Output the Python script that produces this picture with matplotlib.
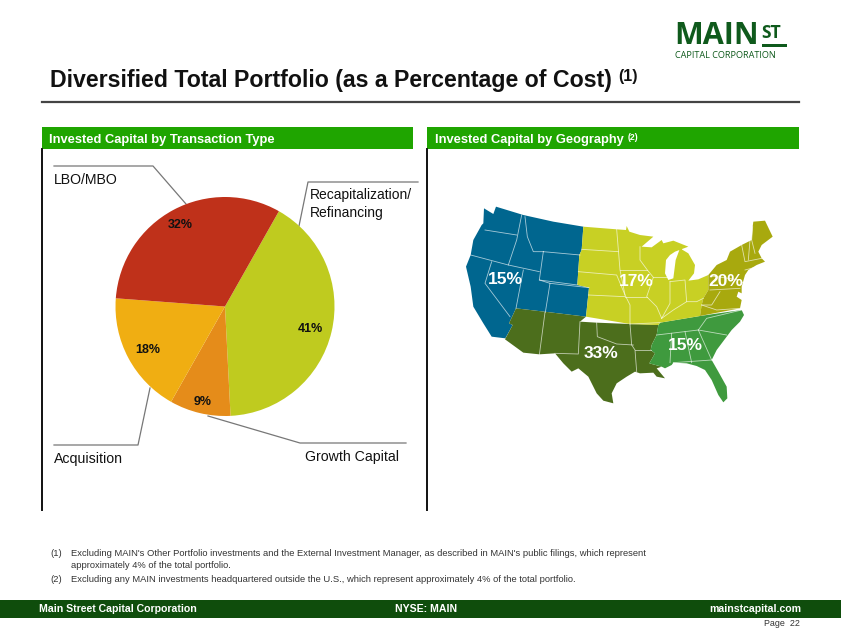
import numpy as np
import matplotlib
matplotlib.use("Agg")
import matplotlib.pyplot as plt
from matplotlib.patches import Rectangle

plt.rcParams['font.family'] = ['Liberation Sans', 'DejaVu Sans']

# pie data
types = ['Recapitalization/\nRefinancing', 'Growth Capital', 'Acquisition', 'LBO/MBO']
shares = [41, 9, 18, 32]
pie_colors = ['#bfcb1f', '#e58c1a', '#f0ae12', '#bf311a']
label_radius = [0.80, 0.88, 0.80, 0.87]

# map regions, outlines
west = [(132,55),(160,72),(168,50),(250,75),(340,95),(430,110),(425,180),(418,195),(412,285),(447,293),(438,380),(330,367),(228,355),(207,400),(218,405),(196,445),(155,440),
        (130,400),(100,350),(92,290),(78,230),(92,195),(100,150),(125,105),(130,100)]
southwest = [(228,355),(330,367),(438,380),(420,395),(470,398),(570,402),(655,405),(650,435),(635,465),(632,480),(645,490),(628,520),(665,530),(650,535),(675,565),
             (650,560),(640,548),(600,550),(585,545),(560,560),(530,580),(515,610),(520,640),(490,632),(470,610),(445,560),(415,535),(395,545),(370,520),(345,490),
             (298,493),(250,488),(195,448),(218,405),(207,400)]
southeast = [(655,405),(660,398),(780,378),(905,360),(912,375),(900,395),(875,420),(860,440),(830,480),(815,510),(835,545),(860,590),(862,625),(850,637),(835,615),(815,570),(795,540),
             (770,528),(740,520),(700,518),(695,525),(675,535),(665,530),(628,520),(645,490),(632,480),(635,465),(650,435)]
midwest = [(430,110),(530,118),(558,120),(560,108),(568,125),(600,135),(640,140),(605,170),(635,172),(665,150),(670,160),(700,152),(720,160),(745,170),(705,185),(690,195),(678,210),
           (675,250),(685,270),(700,265),(707,210),(720,175),(745,190),(765,225),(762,250),(745,272),(775,268),(805,255),(805,300),(790,325),(785,345),(780,378),(660,398),(655,405),
           (570,402),(438,380),(447,293),(412,285),(418,195),(425,180)]
northeast = [(940,95),(975,92),(998,140),(965,165),(955,185),(965,205),(975,215),(950,225),(925,240),(915,255),(905,290),(905,310),(895,305),(890,320),(905,330),(900,355),
             (780,378),(785,345),(790,325),(805,300),(805,255),(830,225),(860,210),(870,185),(905,165),(935,150),(938,110)]
region_fills = [(west, '#00668f'), (southwest, '#4c6e1c'), (southeast, '#3f9a3e'), (midwest, '#c8d024'), (northeast, '#a8a90e')]

state_lines = [
    [(245,75),(230,150),(205,225)], [(255,80),(262,140),(280,185),(310,185)], [(135,120),(230,135)], [(92,195),(205,225),(298,245)],
    [(155,215),(135,280),(210,380)], [(310,185),(298,270),(330,280),(316,367)], [(310,185),(420,195)], [(298,270),(412,285)],
    [(250,240),(228,355)], [(330,280),(447,293)], [(315,367),(298,495)],
    [(425,178),(535,185)], [(530,118),(540,240),(555,315),(570,345),(570,402)], [(415,245),(530,255),(555,315)], [(445,315),(555,320)],
    [(540,240),(622,240)], [(600,170),(600,210),(622,240),(640,262),(620,320),(650,350),(665,385)], [(640,262),(685,262)], [(690,275),(690,340),(665,385)],
    [(690,275),(735,270),(740,335)], [(555,320),(620,320)], [(665,385),(700,360),(740,335),(770,335),(790,325)], [(570,402),(660,398)],
    [(420,395),(415,492),(345,490)], [(470,398),(472,440),(530,462),(580,465)], [(570,402),(575,465),(585,480),(590,545)], [(585,480),(632,480)],
    [(695,430),(690,518)], [(735,425),(755,518)], [(775,420),(815,510)], [(650,435),(775,420),(860,435)], [(775,420),(800,385),(905,360)], [(700,518),(815,510)],
    [(785,345),(815,345),(840,305)], [(785,345),(830,360),(900,355)], [(815,258),(900,270),(915,285)], [(810,300),(900,295)], [(905,165),(915,215),(965,205)], [(930,150),(925,210)], [(915,240),(960,228)],
    [(938,110),(935,150),(945,190)],
]
map_labels = [('15%', 197, 265), ('17%', 590, 272), ('20%', 858, 270), ('15%', 736, 462), ('33%', 484, 488)]

fig = plt.figure(figsize=(8.41, 6.35), dpi=100)
ax = fig.add_axes([0, 0, 1, 1])
ax.set_xlim(0, 841)
ax.set_ylim(635, 0)
ax.axis('off')

# title and rule
ax.text(50, 80.5, 'Diversified Total Portfolio (as a Percentage of Cost)', fontsize=16.65, fontweight='bold', color='#111111', va='center')
ax.text(618, 76, '(1)', fontsize=11.5, fontweight='bold', color='#111111', va='center')
ax.plot([42, 799], [102, 102], color='#444444', lw=1.6)

# logo
ax.text(674, 36, 'MAIN', fontsize=22, fontweight='bold', color='#0f5a1c', va='center', family='Open Sans')
ax.text(761, 33, 'ST', fontsize=12.5, fontweight='bold', color='#0f5a1c', va='center', family='Open Sans')
ax.add_patch(Rectangle((762, 44), 25, 3, color='#0f5a1c', lw=0))
ax.text(675, 55, 'CAPITAL CORPORATION', fontsize=6.6, color='#0f5a1c', va='center', family='Open Sans')

# panel headers
ax.add_patch(Rectangle((42, 127), 371, 22, color='#1fa500', lw=0))
ax.add_patch(Rectangle((427, 127), 372, 22, color='#1fa500', lw=0))
ax.text(49, 139.5, 'Invested Capital by Transaction Type', fontsize=9.3, fontweight='bold', color='white', va='center')
ax.text(435, 139.5, 'Invested Capital by Geography', fontsize=9.3, fontweight='bold', color='white', va='center')
ax.text(628, 137, '(2)', fontsize=6.3, fontweight='bold', color='white', va='center')
ax.plot([42, 42], [149, 510], color='#111111', lw=1.4)
ax.plot([427, 427], [149, 510], color='#111111', lw=1.4)

# leader lines
ax.plot([54, 153, 186], [166, 166, 204], color='#777777', lw=0.9)
ax.plot([418, 308, 299], [182, 182, 226], color='#777777', lw=0.9)
ax.plot([406, 300, 208], [443, 443, 416], color='#777777', lw=0.9)
ax.plot([54, 138, 150], [445, 445, 388], color='#777777', lw=0.9)

# category labels
ax.text(54, 180, 'LBO/MBO', fontsize=10.2, color='#111111', va='center')
ax.text(310, 195.5, 'Recapitalization/', fontsize=10, color='#111111', va='center')
ax.text(310, 213, 'Refinancing', fontsize=10, color='#111111', va='center')
ax.text(54, 459, 'Acquisition', fontsize=10.2, color='#111111', va='center')
ax.text(305, 457, 'Growth Capital', fontsize=10.2, color='#111111', va='center')

# pie
cx, cy, r = 225, 306.5, 109.5
pie_ax = fig.add_axes([(cx - r) / 841, 1 - (cy + r) / 635, 2 * r / 841, 2 * r / 635])
wedges, _ = pie_ax.pie(shares, colors=pie_colors, startangle=60.5, counterclock=False, radius=1.0,
                       wedgeprops={'linewidth': 0})
pie_ax.set_xlim(-1, 1)
pie_ax.set_ylim(-1, 1)
for w, val, rad in zip(wedges, shares, label_radius):
    mid = np.deg2rad((w.theta1 + w.theta2) / 2)
    pie_ax.text(rad * np.cos(mid), rad * np.sin(mid) - 0.02, f'{val}%',
                fontsize=9, fontweight='bold', color='#111111', ha='center', va='center')

# map, outlines are in 3x crop coordinates
def to_px(points):
    return [440 + p[0] / 3 for p in points], [190 + p[1] / 3 for p in points]

for outline, col in region_fills:
    xs, ys = to_px(outline)
    ax.fill(xs, ys, color=col, lw=0)
for line in state_lines:
    xs, ys = to_px(line)
    ax.plot(xs, ys, color='white', lw=0.6, alpha=0.65)
for txt, zx, zy in map_labels:
    ax.text(440 + zx / 3, 191 + zy / 3, txt, fontsize=12.5, fontweight='bold', color='white', ha='center', va='center')

# footnotes
note_col = '#333333'
ax.text(50, 554, '(1)', fontsize=6.74, color=note_col, va='center')
ax.text(71, 554, "Excluding MAIN's Other Portfolio investments and the External Investment Manager, as described in MAIN's public filings, which represent", fontsize=6.74, color=note_col, va='center')
ax.text(71, 565, 'approximately 4% of the total portfolio.', fontsize=6.74, color=note_col, va='center')
ax.text(50, 579.5, '(2)', fontsize=6.74, color=note_col, va='center')
ax.text(71, 579.5, 'Excluding any MAIN investments headquartered outside the U.S., which represent approximately 4% of the total portfolio.', fontsize=6.74, color=note_col, va='center')

# footer
ax.add_patch(Rectangle((0, 600), 841, 17.5, color='#0f4d0c', lw=0))
ax.text(39, 609.5, 'Main Street Capital Corporation', fontsize=7.55, fontweight='bold', color='white', va='center')
ax.text(395, 609.5, 'NYSE: MAIN', fontsize=7.55, fontweight='bold', color='white', va='center')
ax.text(801, 609.5, 'mainstcapital.com', fontsize=7.6, fontweight='bold', color='white', va='center', ha='right')
ax.text(800, 623, 'Page  22', fontsize=6.4, color='#333333', va='center', ha='right')

fig.savefig('out.png', dpi=100)
